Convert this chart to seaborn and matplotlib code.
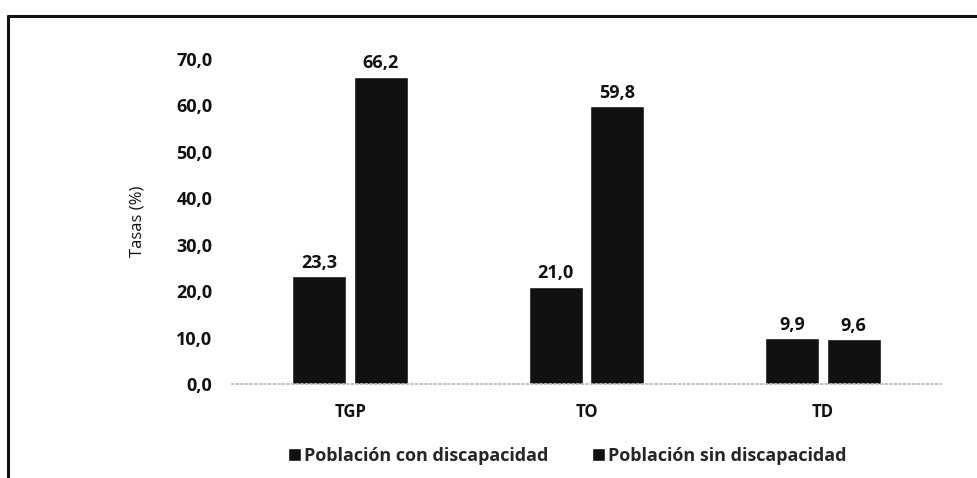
import matplotlib
matplotlib.use("Agg")
import matplotlib.pyplot as plt
import seaborn as sns
import pandas as pd
from matplotlib.lines import Line2D
from matplotlib.patches import Patch

categories = ["TGP", "TO", "TD"]
series_names = ["Población con discapacidad", "Población sin discapacidad"]
con_discapacidad = [23.3, 21.0, 9.9]
sin_discapacidad = [66.2, 59.8, 9.6]
yticks = [0, 10, 20, 30, 40, 50, 60, 70]

df = pd.DataFrame({
    "cat": categories * 2,
    "serie": [series_names[0]] * 3 + [series_names[1]] * 3,
    "valor": con_discapacidad + sin_discapacidad,
})

sns.set_theme(style="white")
plt.rcParams["font.family"] = ["Open Sans", "DejaVu Sans"]

W, H = 977, 478
fig = plt.figure(figsize=(W / 100, H / 100), dpi=100)
ax_left, ax_right, ax_bottom, ax_top = 232, 941, 384, 59
ax = fig.add_axes([ax_left / W, 1 - ax_bottom / H,
                   (ax_right - ax_left) / W, (ax_bottom - ax_top) / H])

sns.barplot(data=df, x="cat", y="valor", hue="serie", order=categories,
            hue_order=series_names, palette=["#111111", "#111111"],
            width=0.52, gap=0.12, ax=ax, legend=False, saturation=1)

for cont in ax.containers:
    ax.bar_label(cont, labels=[f"{v:.1f}".replace(".", ",") for v in cont.datavalues],
                 padding=3, fontsize=13, fontweight="bold", color="#111111")

ax.set_ylim(0, 70)
ax.set_xlim(-0.5, 2.5)
ax.set_yticks(yticks)
ax.set_yticklabels([f"{v:.1f}".replace(".", ",") for v in yticks],
                   fontsize=13, fontweight="bold", color="#111111")
ax.set_xticks(range(len(categories)))
ax.set_xticklabels(categories, fontsize=12, fontweight="bold", color="#111111")
ax.tick_params(axis="y", pad=14, length=0)
ax.tick_params(axis="x", pad=14, length=0)
ax.set_xlabel("")
ax.set_ylabel("Tasas (%)", fontsize=12, color="#111111", labelpad=22)
for s in ["top", "right", "left"]:
    ax.spines[s].set_visible(False)
ax.spines["bottom"].set_color("#bbbbbb")
ax.spines["bottom"].set_linestyle(":")

handles = [Patch(facecolor="#111111", label=n) for n in series_names]
fig.legend(handles=handles, loc="center", bbox_to_anchor=(567 / W, 1 - 456 / H),
           ncol=2, frameon=False, handlelength=0.75, handleheight=0.75,
           handletextpad=0.15, columnspacing=2.4,
           prop={"weight": "bold", "size": 13})

# scanned frame: top and left edges
fig.add_artist(Line2D([8 / W, 1.0], [1 - 16 / H, 1 - 16 / H], transform=fig.transFigure,
                      color="#111111", linewidth=2.2))
fig.add_artist(Line2D([8 / W, 8 / W], [0.0, 1 - 16 / H], transform=fig.transFigure,
                      color="#111111", linewidth=2.2))

fig.savefig("out.png", dpi=100)
